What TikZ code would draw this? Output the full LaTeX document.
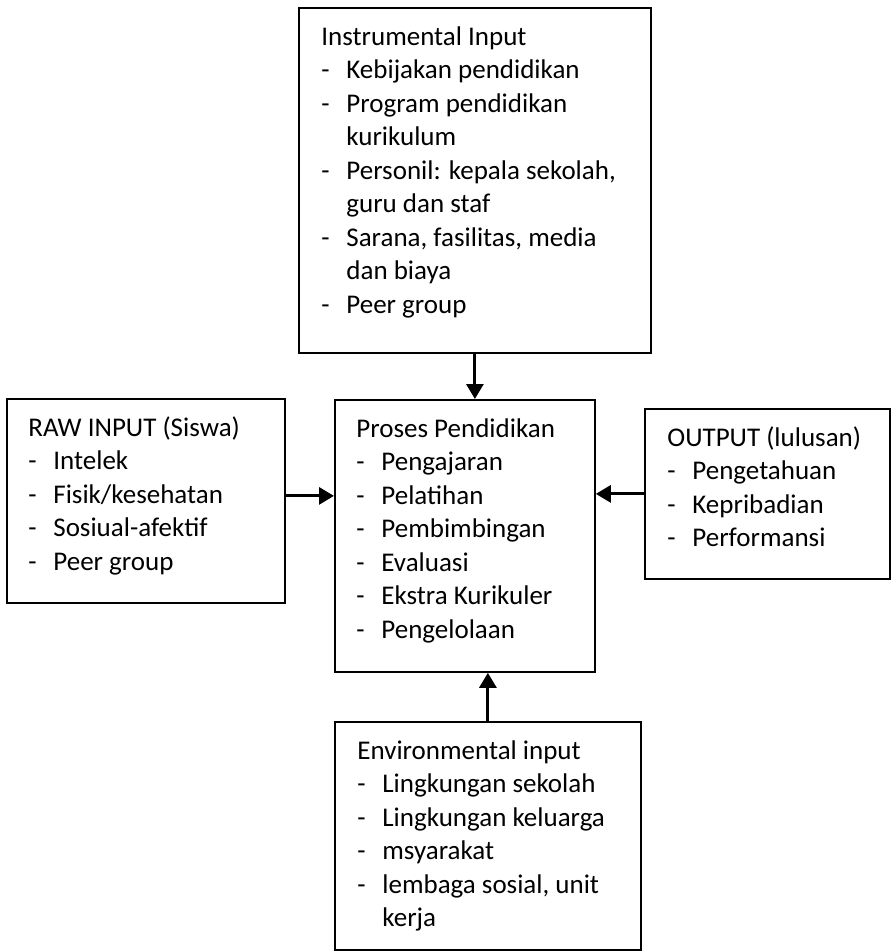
\documentclass[tikz,border=0pt]{standalone}
\usepackage{fontspec}
\setmainfont{Carlito}
\usetikzlibrary{arrows.meta}
\tikzset{
	kotak/.style={draw, line width=0.9pt, inner sep=0pt, anchor=north west},
	isi/.style={inner sep=0pt, anchor=north west, font=\fontsize{13.5}{16.75}\selectfont},
	panah/.style={line width=1.5pt, -{Triangle[width=8.5pt,length=7.5pt]}},
}
\newcommand{\daftar}[2]{\begin{tabular}{@{}p{12.5pt}@{}l@{}}\multicolumn{2}{@{}l@{}}{#1}\\#2\end{tabular}}

\begin{document}
\begin{tikzpicture}[x=0.5pt, y=-0.5pt]
	\useasboundingbox (0,0) rectangle (892,952);

	\node[kotak, minimum width=176pt, minimum height=172.5pt] (instr) at (298,7) {};
	\node[kotak, minimum width=139pt, minimum height=102pt] (raw) at (6,398) {};
	\node[kotak, minimum width=130pt, minimum height=136pt] (proses) at (334,399) {};
	\node[kotak, minimum width=122.5pt, minimum height=85pt] (output) at (644,408) {};
	\node[kotak, minimum width=153pt, minimum height=114pt] (env) at (334,721) {};

	\node[isi] (instrtxt) at ([xshift=11.5pt, yshift=-7.3pt]instr.north west) {\daftar{Instrumental Input}{
		- & Kebijakan pendidikan\\
		- & Program pendidikan\\
		  & kurikulum\\
		- & Personil: kepala sekolah,\\
		  & guru dan staf\\
		- & Sarana, fasilitas, media\\
		  & dan biaya\\
		- & Peer group}};
	\node[isi] (rawtxt) at ([xshift=11pt, yshift=-7.3pt]raw.north west) {\daftar{RAW INPUT (Siswa)}{
		- & Intelek\\
		- & Fisik/kesehatan\\
		- & Sosiual-afektif\\
		- & Peer group}};
	\node[isi] (prosestxt) at ([xshift=11pt, yshift=-7.3pt]proses.north west) {\daftar{Proses Pendidikan}{
		- & Pengajaran\\
		- & Pelatihan\\
		- & Pembimbingan\\
		- & Evaluasi\\
		- & Ekstra Kurikuler\\
		- & Pengelolaan}};
	\node[isi] (outputtxt) at ([xshift=11.5pt, yshift=-7.3pt]output.north west) {\daftar{OUTPUT (lulusan)}{
		- & Pengetahuan\\
		- & Kepribadian\\
		- & Performansi}};
	\node[isi] (envtxt) at ([xshift=11.5pt, yshift=-7.3pt]env.north west) {\daftar{Environmental input}{
		- & Lingkungan sekolah\\
		- & Lingkungan keluarga\\
		- & msyarakat\\
		- & lembaga sosial, unit\\
		  & kerja}};

	\draw[panah] (instr.south) -- (instr.south |- proses.north);
	\draw[panah] ([yshift=2.5pt]raw.east) -- ([yshift=2.5pt]raw.east -| proses.west);
	\draw[panah] (output.west) -- (output.west -| proses.east);
	\draw[panah] (env.north) -- (env.north |- proses.south);
\end{tikzpicture}
\end{document}
